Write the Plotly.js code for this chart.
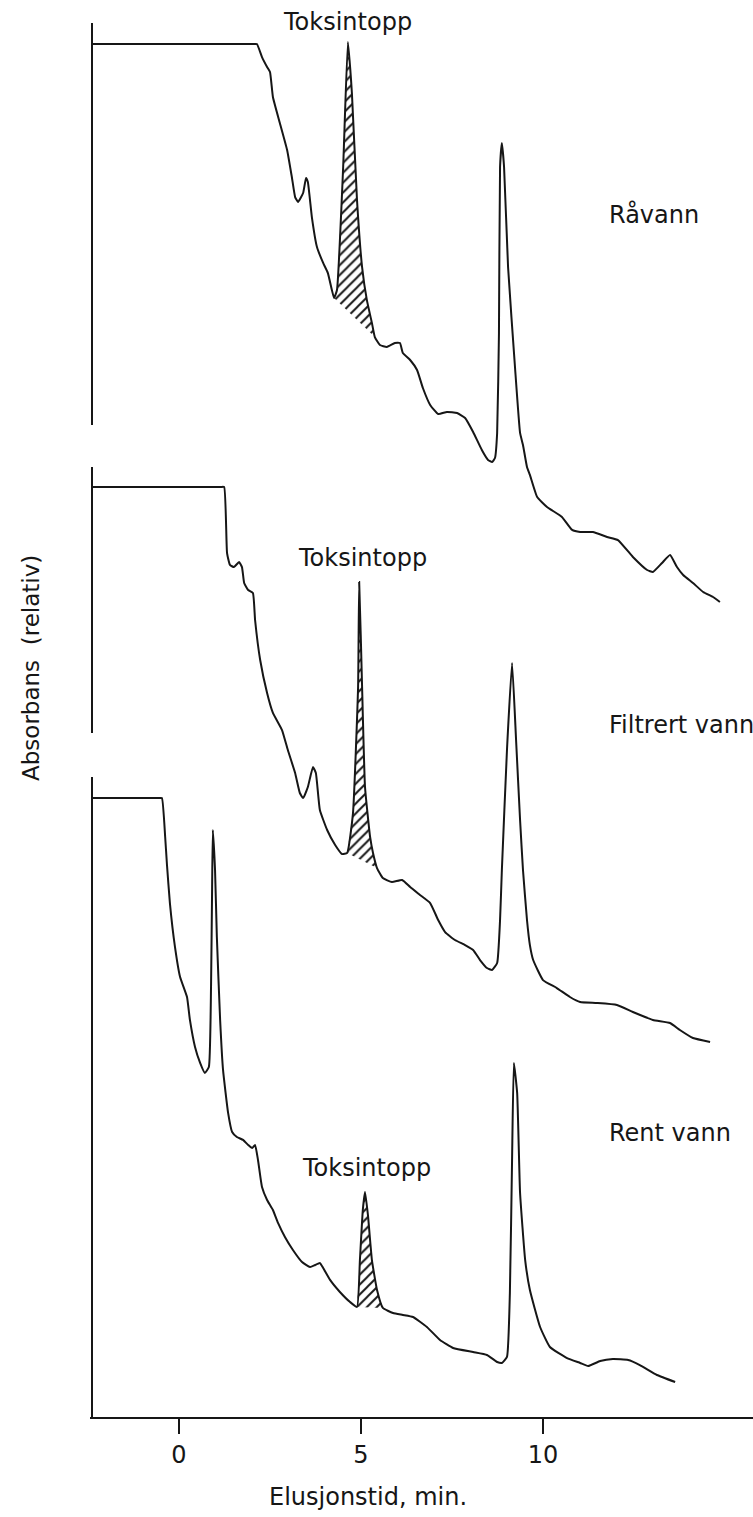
<!DOCTYPE html>
<html><head><meta charset="utf-8">
<script src="https://cdn.plot.ly/plotly-3.0.1.min.js"></script>
<style>html,body{margin:0;padding:0;background:#fff}#chart{width:753px;height:1517px}</style>
</head><body><div id="chart"></div>
<script>
// Elution time (min) and relative absorbance (stacked, arbitrary units)
const ravannT = [-2.39,2.05,2.14,2.28,2.42,2.50,2.58,2.77,2.97,3.10,3.19,3.27,3.41,3.49,3.54,3.65,3.79,3.96,4.09,4.20,4.26,4.34,4.51,4.64,4.75,4.89,5.03,5.16,5.30,5.38,5.52,5.71,5.93,6.07,6.15,6.35,6.54,6.70,6.90,7.12,7.36,7.64,7.86,8.08,8.32,8.49,8.60,8.68,8.74,8.79,8.82,8.87,8.93,9.04,9.23,9.37,9.45,9.56,9.64,9.84,10.11,10.52,10.80,11.02,11.37,11.76,12.06,12.47,12.86,13.02,13.27,13.49,13.68,13.85,14.12,14.40,14.67,14.86];
const ravannA = [98.07,98.07,98.07,97.14,96.43,96.07,94.29,92.43,90.50,88.57,87.14,86.79,87.43,88.50,88.21,85.71,83.57,82.43,81.71,80.50,79.93,80.50,89.29,98.21,94.57,86.93,82.14,79.79,78.14,77.14,76.57,76.43,76.71,76.71,76.00,75.50,74.79,73.50,72.29,71.64,71.79,71.71,71.36,70.36,69.07,68.36,68.21,68.50,70.29,77.43,89.29,91.00,89.29,82.14,75.00,70.29,69.43,67.86,67.29,65.71,65.00,64.29,63.36,63.21,63.21,62.86,62.64,61.43,60.50,60.36,61.00,61.57,60.71,60.14,59.57,58.93,58.57,58.21];

const filtrertT = [-2.39,1.15,1.24,1.32,1.40,1.51,1.65,1.73,1.79,1.90,2.03,2.09,2.23,2.42,2.58,2.83,2.99,3.19,3.32,3.41,3.54,3.68,3.76,3.87,4.07,4.29,4.48,4.62,4.78,4.92,4.95,5.03,5.11,5.25,5.33,5.44,5.60,5.85,6.13,6.35,6.62,6.90,7.12,7.31,7.58,7.86,8.08,8.27,8.46,8.60,8.74,8.82,8.87,9.01,9.15,9.26,9.37,9.45,9.56,9.64,9.73,10.00,10.38,10.74,11.02,11.48,12.03,12.47,13.02,13.49,13.76,14.12,14.59];
const filtrertA = [66.43,66.43,66.43,61.71,60.86,60.71,61.07,60.71,59.57,59.07,58.86,56.93,54.07,51.71,50.29,49.07,47.64,46.00,44.57,44.21,45.00,46.43,46.00,43.36,41.93,40.86,40.21,40.29,43.14,52.14,59.64,52.14,45.00,41.43,40.29,39.21,38.50,38.21,38.36,37.86,37.29,36.71,35.50,34.64,34.07,33.71,33.36,32.64,32.07,31.93,32.43,35.50,39.07,47.64,53.86,48.36,42.64,39.07,35.50,33.71,32.64,31.21,30.64,30.00,29.64,29.57,29.43,28.93,28.36,28.14,27.64,27.07,26.79];

const rentT = [-2.39,-0.55,-0.47,-0.38,-0.33,-0.25,-0.11,0.03,0.22,0.30,0.44,0.58,0.71,0.82,0.88,0.91,0.93,0.99,1.04,1.13,1.21,1.35,1.46,1.59,1.76,1.90,2.01,2.09,2.17,2.28,2.42,2.58,2.72,2.91,3.13,3.38,3.60,3.74,3.87,3.96,4.15,4.42,4.70,4.89,4.97,5.05,5.11,5.19,5.30,5.44,5.60,5.88,6.15,6.43,6.81,7.17,7.53,8.08,8.46,8.74,8.87,9.01,9.09,9.15,9.20,9.29,9.37,9.51,9.64,9.92,10.19,10.66,11.02,11.24,11.57,11.92,12.34,12.66,13.13,13.63];
const rentA = [44.21,44.21,44.21,41.43,39.43,36.71,33.57,31.43,30.00,28.36,26.43,25.29,24.57,25.00,30.71,37.86,41.93,39.07,34.29,28.36,24.79,21.71,20.36,20.00,19.79,19.43,19.21,19.43,18.36,16.43,15.50,14.79,13.86,12.86,11.93,11.07,10.71,10.86,11.00,10.64,9.79,8.93,8.21,7.86,11.21,14.79,16.07,14.43,11.21,9.07,7.79,7.43,7.29,7.14,6.43,5.50,4.93,4.64,4.43,3.93,3.86,4.29,8.86,18.36,25.29,23.14,16.00,11.21,9.07,6.43,5.00,4.21,3.86,3.64,4.00,4.14,4.07,3.71,3.00,2.50];

// Toxin peak (hatched) limits, min
const toxinStart = [4.26, 4.62, 4.89];
const toxinEnd   = [5.38, 5.44, 5.60];

// Recorder pen start strokes (relative absorbance)
const penTime = -2.39;
const penTop    = [99.57, 67.86, 45.71];
const penBottom = [70.86, 48.86, 0];

// Labels
const sampleNames = ['Råvann', 'Filtrert vann', 'Rent vann'];
const sampleLabelT = [11.76, 11.76, 11.76];
const sampleLabelA = [85.86, 49.43, 20.29];
const toxinLabel = 'Toksintopp';
const toxinLabelT = [4.62, 5.03, 5.16];
const toxinLabelA = [99.64, 61.36, 17.79];
const xTicks = [0, 5, 10];

const series = [[ravannT, ravannA], [filtrertT, filtrertA], [rentT, rentA]];
const ink = '#161616';
const FONT = 'DejaVu Sans, sans-serif';
const FS = 24;
const traces = [];

series.forEach(([t, a], i) => {
  const hx = [], hy = [];
  t.forEach((v, k) => { if (v >= toxinStart[i] - 1e-9 && v <= toxinEnd[i] + 1e-9) { hx.push(v); hy.push(a[k]); } });
  hx.push(hx[0]); hy.push(hy[0]);
  traces.push({x: hx, y: hy, type: 'scatter', mode: 'none', fill: 'toself',
    fillcolor: 'rgba(255,255,255,0)',
    fillpattern: {shape: '/', fgcolor: ink, bgcolor: 'rgba(255,255,255,0)', size: 7, solidity: 0.28},
    hoverinfo: 'skip', showlegend: false});
});
series.forEach(([t, a], i) => {
  traces.push({x: t, y: a, type: 'scatter', mode: 'lines', line: {color: ink, width: 2, shape: 'spline', smoothing: 0.4},
    name: sampleNames[i], showlegend: false});
  traces.push({x: [penTime, penTime], y: [penTop[i], penBottom[i]], type: 'scatter', mode: 'lines',
    line: {color: ink, width: 2}, showlegend: false, hoverinfo: 'skip'});
});

const annotations = [];
sampleNames.forEach((n, i) => annotations.push({x: sampleLabelT[i], y: sampleLabelA[i], xref: 'x', yref: 'y',
  text: n, showarrow: false, xanchor: 'left', yanchor: 'middle', font: {family: FONT, size: FS, color: ink}}));
toxinLabelT.forEach((tv, i) => annotations.push({x: tv, y: toxinLabelA[i], xref: 'x', yref: 'y',
  text: toxinLabel, showarrow: false, xanchor: 'center', yanchor: 'middle', font: {family: FONT, size: FS, color: ink}}));
annotations.push({x: -0.089, y: 53.5, xref: 'paper', yref: 'y', text: 'Absorbans  (relativ)', textangle: -90,
  showarrow: false, xanchor: 'center', yanchor: 'middle', font: {family: FONT, size: 23, color: ink}});
annotations.push({x: 5.19, y: -0.0569, xref: 'x', yref: 'paper', text: 'Elusjonstid, min.',
  showarrow: false, xanchor: 'center', yanchor: 'middle', font: {family: FONT, size: FS, color: ink}});

const layout = {
  width: 753, height: 1517,
  margin: {l: 90, r: 0, t: 10, b: 100},
  paper_bgcolor: '#fff', plot_bgcolor: '#fff',
  showlegend: false,
  xaxis: {range: [-2.445, 15.769], showgrid: false, zeroline: false, showline: true, linecolor: ink, linewidth: 2,
    ticks: 'outside', ticklen: 15, tickwidth: 2, tickcolor: ink, tickvals: xTicks, ticktext: xTicks.map(String),
    tickfont: {family: FONT, size: FS, color: ink}, fixedrange: true},
  yaxis: {range: [0, 100.5], visible: false, fixedrange: true},
  annotations: annotations
};
Plotly.newPlot('chart', traces, layout, {staticPlot: true, displayModeBar: false});
</script></body></html>
